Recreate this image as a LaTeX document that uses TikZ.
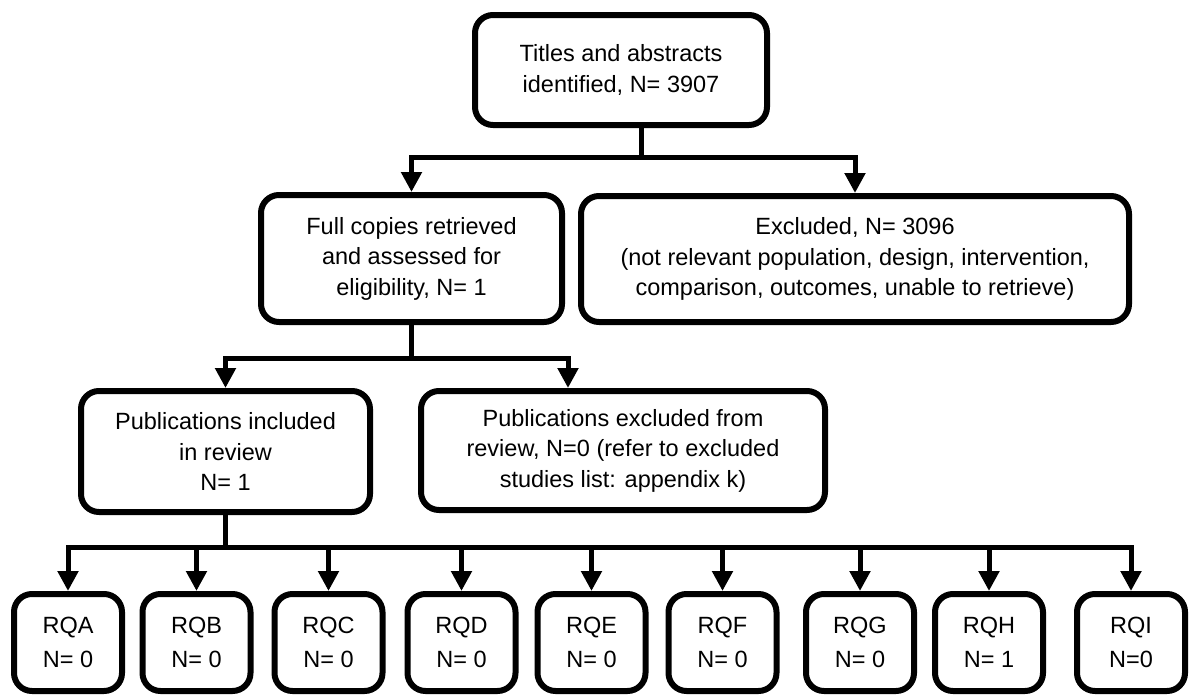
\documentclass[tikz,border=0pt]{standalone}
\usepackage{fontspec}
\setmainfont{Liberation Sans}
\usetikzlibrary{arrows.meta,calc}
\begin{document}
\begin{tikzpicture}[x=1pt,y=-1pt,
  box/.style={draw, line width=6pt, rounded corners=18pt, align=center, inner sep=0pt,
    font=\fontsize{23.5}{30.5}\selectfont},
  rq/.style={box, minimum width=108pt, minimum height=97pt, font=\fontsize{23.5}{34}\selectfont},
  conn/.style={line width=5pt},
  arr/.style={conn, -{Triangle[width=20pt,length=20pt]}}]
\useasboundingbox (0,0) rectangle (1189,696);

\node[box, minimum width=292pt, minimum height=110pt] (top) at (621,70) {Titles and abstracts\\identified, N= 3907};
\node[box, minimum width=301pt, minimum height=127pt] (full) at (411.5,258.5) {Full copies retrieved\\and assessed for\\eligibility, N= 1};
\node[box, minimum width=548pt, minimum height=126pt] (excl) at (855,259) {Excluded, N= 3096\\(not relevant population, design, intervention,\\comparison, outcomes, unable to retrieve)};
\node[box, minimum width=289pt, minimum height=121pt] (incl) at (225.5,451.5) {Publications included\\in review\\N= 1};
\node[box, minimum width=404pt, minimum height=119pt] (pexcl) at (623,450.5) {Publications excluded from\\review, N=0 (refer to excluded\\studies list: appendix k)};

\node[rq] (rqA) at (68,642.5) {RQA\\N= 0};
\node[rq] (rqB) at (196.5,642.5) {RQB\\N= 0};
\node[rq] (rqC) at (328.5,642.5) {RQC\\N= 0};
\node[rq] (rqD) at (461.5,642.5) {RQD\\N= 0};
\node[rq] (rqE) at (591.5,642.5) {RQE\\N= 0};
\node[rq] (rqF) at (722.5,642.5) {RQF\\N= 0};
\node[rq] (rqG) at (860,642.5) {RQG\\N= 0};
\node[rq] (rqH) at (989,642.5) {RQH\\N= 1};
\node[rq] (rqI) at (1131,642.5) {RQI\\N=0};

% level 1
\coordinate (j1) at (641,157);
\draw[conn] (top.south -| j1) -- (j1);
\draw[arr] (j1) -| (full.north);
\draw[arr] (j1) -| (excl.north);

% level 2
\coordinate (y2) at (0,358);
\coordinate (x2) at (568,0);
\coordinate (j2) at (full.south |- y2);
\draw[conn] (full.south) -- (j2);
\draw[arr] (j2) -| (incl.north);
\draw[arr] (j2) -| (pexcl.north -| x2);

% level 3
\coordinate (y3) at (0,547);
\coordinate (j3) at (incl.south |- y3);
\draw[conn] (incl.south) -- (j3);
\foreach \r in {rqA,rqB,rqC,rqD,rqE,rqF,rqG,rqH,rqI}
  \draw[arr] (j3) -| (\r.north);
\end{tikzpicture}
\end{document}
